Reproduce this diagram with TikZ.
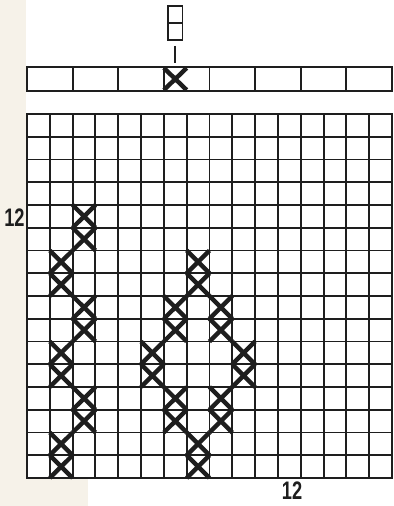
\documentclass[tikz,border=0pt]{standalone}
\usepackage{fontspec}
\setmainfont{Liberation Sans}
\definecolor{ink}{HTML}{1E1E1E}
\definecolor{paper}{HTML}{F6F2E9}
\begin{document}
\begin{tikzpicture}[x=0.75pt,y=-0.75pt,
  gridline/.style={line width=1.45pt, draw=ink},
  frame/.style={line width=1.9pt, draw=ink},
  xmark/.style={line width=3.3pt, draw=ink, line cap=butt},
  numlabel/.style={font=\fontsize{19}{19}\selectfont\bfseries, text=ink, inner sep=0pt}]
\useasboundingbox (0,0) rectangle (393,506);
\fill[white] (0,0) rectangle (393,506);
\fill[paper] (0,0) rectangle (26,506);
\fill[paper] (0,479) rectangle (88,506);
% main grid 16x16
\def\cw{22.81}
\def\ch{22.75}
\foreach \i in {1,...,15}{
  \draw[gridline] ({27+\i*\cw},114) -- ({27+\i*\cw},478);
  \draw[gridline] (27,{114+\i*\ch}) -- (392,{114+\i*\ch});
}
\draw[frame] (27,114) rectangle (392,478);
% crosses (column / row from top)
\foreach \c/\r in {2/4,2/5,1/6,1/7,7/6,7/7,2/8,2/9,6/8,6/9,8/8,8/9,
                   1/10,1/11,5/10,5/11,9/10,9/11,2/12,2/13,6/12,6/13,8/12,8/13,
                   1/14,1/15,7/14,7/15}{
  \draw[xmark] ({27+\c*\cw},{114+\r*\ch}) -- ({27+(\c+1)*\cw},{114+(\r+1)*\ch})
               ({27+\c*\cw},{114+(\r+1)*\ch}) -- ({27+(\c+1)*\cw},{114+\r*\ch});
}
% top strip of 8 cells
\draw[frame] (27,67) rectangle (392,91);
\foreach \k in {1,...,7}{
  \draw[gridline] ({27+\k*45.62},67) -- ({27+\k*45.62},91);
}
\draw[xmark] ({27+6*\cw},68) -- ({27+7*\cw},90) ({27+6*\cw},90) -- ({27+7*\cw},68);
% small double box and its lead line
\draw[gridline] (168.3,6) rectangle (182.5,40);
\draw[gridline] (168.3,23) -- (182.5,23);
\coordinate (leadtop) at (174.8,46);
\coordinate (leadbot) at (174.8,63.5);
\draw[gridline] (leadtop) -- (leadbot);
% labels
\node[numlabel] (lab12left) at (14.5,218) {\scalebox{0.72}[1]{12}};
\node[numlabel] (lab12bot) at (292,491) {\scalebox{0.72}[1]{12}};
\end{tikzpicture}
\end{document}
